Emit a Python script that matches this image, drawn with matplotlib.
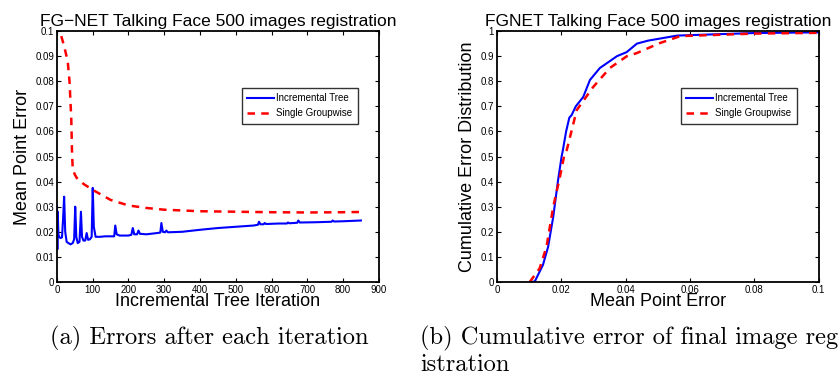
import matplotlib
matplotlib.use("Agg")
from matplotlib import pyplot as plt

# 左図: 反復ごとの誤差
iter_tree = [0, 1, 2, 4, 6, 10, 14, 17, 20, 23, 27, 32, 38, 44, 48, 51, 54, 58, 63, 67, 70,
             74, 79, 83, 87, 92, 97, 100, 103, 108, 120, 135, 150, 160, 163, 167, 175, 200,
             208, 212, 216, 224, 228, 232, 250, 280, 289, 292, 296, 302, 306, 310, 350, 400,
             450, 500, 550, 562, 565, 569, 578, 581, 585, 620, 643, 646, 650, 672, 675, 679,
             720, 768, 771, 775, 800, 850]
err_tree = [0.030, 0.013, 0.028, 0.019, 0.018, 0.0175, 0.0178, 0.025, 0.034, 0.020, 0.016, 0.0155,
            0.015, 0.0155, 0.017, 0.030, 0.018, 0.0155, 0.016, 0.028, 0.018, 0.0165, 0.0165,
            0.0195, 0.0168, 0.017, 0.018, 0.0375, 0.022, 0.018, 0.018, 0.0182, 0.0182, 0.0182,
            0.0225, 0.019, 0.0185, 0.0185, 0.0188, 0.0215, 0.019, 0.019, 0.0205, 0.0192, 0.019,
            0.0195, 0.0197, 0.0235, 0.020, 0.0198, 0.0205, 0.0198, 0.020, 0.0208, 0.0215, 0.022,
            0.0225, 0.0228, 0.024, 0.023, 0.023, 0.0235, 0.0231, 0.0233, 0.0233, 0.0237, 0.0234,
            0.0236, 0.0245, 0.0237, 0.0238, 0.024, 0.0245, 0.0241, 0.0242, 0.0245]

iter_group = [12, 20, 30, 35, 40, 42, 44, 50, 55, 75, 100, 150, 200, 250, 300, 400, 500, 600,
              700, 800, 850]
err_group = [0.098, 0.094, 0.088, 0.080, 0.065, 0.052, 0.045, 0.0428, 0.0415, 0.039, 0.0367,
             0.0327, 0.0305, 0.0295, 0.0288, 0.0282, 0.028, 0.0278, 0.0277, 0.0278, 0.0279]

# 右図: 累積誤差分布
mpe_tree = [0.011, 0.0118, 0.0143, 0.0159, 0.0175, 0.019, 0.0201, 0.0205, 0.0215, 0.0225,
            0.0232, 0.0245, 0.0268, 0.0289, 0.032, 0.0345, 0.0373, 0.0403, 0.0435, 0.047,
            0.0506, 0.056, 0.065, 0.0795, 0.1]
cdf_tree = [0.0, 0.003, 0.068, 0.14, 0.26, 0.406, 0.50, 0.526, 0.60, 0.655, 0.665, 0.70,
            0.737, 0.805, 0.853, 0.875, 0.90, 0.916, 0.95, 0.962, 0.97, 0.982, 0.986, 0.992,
            0.995]
mpe_group = [0.0102, 0.0133, 0.0154, 0.0175, 0.0196, 0.021, 0.0217, 0.0248, 0.0299,
             0.0351, 0.0404, 0.0434, 0.0506, 0.057, 0.08, 0.1]
cdf_group = [0.0, 0.055, 0.14, 0.30, 0.42, 0.51, 0.526, 0.685, 0.777, 0.853, 0.90, 0.912,
             0.952, 0.98, 0.99, 0.993]

plt.rcParams['font.family'] = ['Liberation Sans', 'DejaVu Sans']


def style_axes(ax):
    ax.tick_params(direction='in', top=True, right=True, labelsize=7, length=3, pad=2)
    for s in ax.spines.values():
        s.set_linewidth(1.3)


def add_legend(ax, right):
    leg = ax.legend(loc='upper right', bbox_to_anchor=(right, 0.773), borderaxespad=0,
                    fontsize=7, frameon=True, fancybox=False, edgecolor='black',
                    handlelength=2.8, handletextpad=0.2, borderpad=0.55, labelspacing=0.5)
    leg.get_frame().set_linewidth(1.0)


fig = plt.figure(figsize=(8.38, 3.79), dpi=100)

ax1 = fig.add_axes([0.068, 0.256, 0.384, 0.662])
ax1.plot(iter_tree, err_tree, color='#0000ff', lw=1.5, label='Incremental Tree')
ax1.plot(iter_group, err_group, color='#ff0000', lw=1.8, ls=(0, (3, 2.5)), label='Single Groupwise')
ax1.set_xlim(0, 900)
ax1.set_ylim(0, 0.1)
ax1.set_xticks(range(0, 901, 100))
ax1.set_yticks([i / 100 for i in range(11)])
ax1.set_yticklabels(['0'] + ['%g' % (i / 100) for i in range(1, 11)])
ax1.set_title('FG\u2212NET Talking Face 500 images registration', fontsize=12.5, pad=4)
ax1.set_xlabel('Incremental Tree Iteration', fontsize=13, labelpad=-1)
ax1.set_ylabel('Mean Point Error', fontsize=13, labelpad=3)
style_axes(ax1)
add_legend(ax1, 0.935)

ax2 = fig.add_axes([0.593, 0.256, 0.384, 0.662])
ax2.plot(mpe_tree, cdf_tree, color='#0000ff', lw=1.5, label='Incremental Tree')
ax2.plot(mpe_group, cdf_group, color='#ff0000', lw=1.8, ls=(0, (3, 2.5)), label='Single Groupwise')
ax2.set_xlim(0, 0.1)
ax2.set_ylim(0, 1)
ax2.set_xticks([0, 0.02, 0.04, 0.06, 0.08, 0.1])
ax2.set_xticklabels(['0', '0.02', '0.04', '0.06', '0.08', '0.1'])
ax2.set_yticks([i / 10 for i in range(11)])
ax2.set_yticklabels(['0'] + ['%g' % (i / 10) for i in range(1, 10)] + ['1'])
ax2.set_title('FGNET Talking Face 500 images registration', fontsize=12.5, pad=4)
ax2.set_xlabel('Mean Point Error', fontsize=13, labelpad=-1)
ax2.set_ylabel('Cumulative Error Distribution', fontsize=13, labelpad=3)
style_axes(ax2)
add_legend(ax2, 0.932)

# キャプション（右側は元画像でも右端で切れている）
fig.text(50 / 838, 1 - 338 / 379, '(a) Errors after each iteration', family='cmr10',
         fontsize=17.6, va='center', ha='left')
fig.text(420 / 838, 1 - 338 / 379, '(b) Cumulative error of final image registration',
         family='cmr10', fontsize=17.6, va='center', ha='left')
fig.text(420 / 838, 1 - 365 / 379, 'istration', family='cmr10', fontsize=17.6,
         va='center', ha='left')

fig.savefig('out.png', dpi=100)
